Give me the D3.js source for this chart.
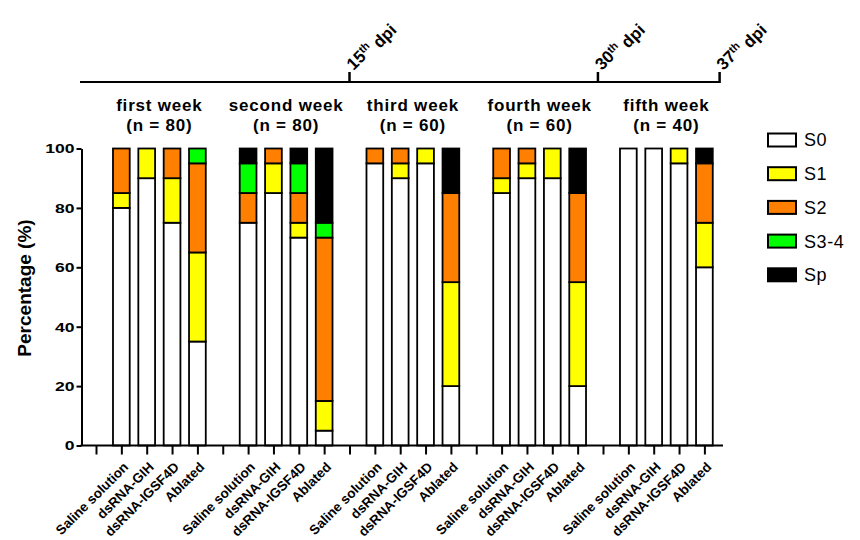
<!DOCTYPE html>
<html>
<head>
<meta charset="utf-8">
<script src="https://cdn.jsdelivr.net/npm/d3@7"></script>
<style>
  body { margin: 0; background: #fff; }
  text { font-family: "Liberation Sans", Arial, sans-serif; fill: #000; }
</style>
</head>
<body>
<div id="container"></div>
<script>
/* CONSTANTS AND GLOBALS */
const width = 860;
const height = 540;

/* DATA */
const stages = ["S0", "S1", "S2", "S3-4", "Sp"];
const stageColors = ["#ffffff", "#ffff00", "#ff8000", "#00ff00", "#000000"];
const weeks = ["first week", "second week", "third week", "fourth week", "fifth week"];
const weekN = [80, 80, 60, 60, 40];
const treatments = ["Saline solution", "dsRNA-GIH", "dsRNA-IGSF4D", "Ablated"];
// percentages, week by week, in treatment order
const valS0  = [80, 90, 75, 35,  75, 85, 70, 5,   95, 90, 95, 20,  85, 90, 90, 20,  100, 100, 95, 60];
const valS1  = [5, 10, 15, 30,   0, 10, 5, 10,    0, 5, 5, 35,     5, 5, 10, 35,    0, 0, 5, 15];
const valS2  = [15, 0, 10, 30,   10, 5, 10, 55,   5, 5, 0, 30,     10, 5, 0, 30,    0, 0, 0, 20];
const valS34 = [0, 0, 0, 5,      10, 0, 10, 5,    0, 0, 0, 0,      0, 0, 0, 0,      0, 0, 0, 0];
const valSp  = [0, 0, 0, 0,      5, 0, 5, 25,     0, 0, 0, 15,     0, 0, 0, 15,     0, 0, 0, 5];
const yTicks = [0, 20, 40, 60, 80, 100];
// dpi marks on the top time line, in slot units of the x axis
const dpiLabels = ["15", "30", "37"];
const dpiSlots = [10, 19.8, 24.6];

/* BUILD ROWS */
const rows = [];
weeks.forEach((w, wi) => {
  treatments.forEach((t, ti) => {
    const i = wi * 4 + ti;
    rows.push({ key: w + "|" + t, "S0": valS0[i], "S1": valS1[i], "S2": valS2[i], "S3-4": valS34[i], "Sp": valSp[i] });
  });
});
const slots = [];
weeks.forEach(w => {
  slots.push("gap|" + w);
  treatments.forEach(t => slots.push(w + "|" + t));
});

const svg = d3.select("#container")
  .append("svg")
  .attr("width", width)
  .attr("height", height);

const xScale = d3.scalePoint()
  .domain(slots)
  .range([96, 704.4]);
const slotScale = d3.scaleLinear()
  .domain([0, slots.length - 1])
  .range([96, 704.4]);
const yScale = d3.scaleLinear()
  .domain([0, 100])
  .range([445.5, 148.5]);
const color = d3.scaleOrdinal().domain(stages).range(stageColors);
const barW = xScale.step() * 0.66;

/* BARS */
const series = d3.stack().keys(stages)(rows);
svg.append("g")
  .selectAll("g")
  .data(series)
  .join("g")
  .attr("fill", d => color(d.key))
  .selectAll("rect")
  .data(d => d.filter(p => p[1] - p[0] > 0))
  .join("rect")
  .attr("x", d => xScale(d.data.key) - barW / 2)
  .attr("y", d => yScale(d[1]))
  .attr("width", barW)
  .attr("height", d => yScale(d[0]) - yScale(d[1]))
  .attr("stroke", "#000")
  .attr("stroke-width", 1.8);

/* AXES */
const xAxis = d3.axisBottom(xScale)
  .tickSize(9)
  .tickFormat(k => k.startsWith("gap") ? "" : k.split("|")[1]);
const gx = svg.append("g")
  .attr("transform", `translate(0, ${yScale(0)})`)
  .call(xAxis);
gx.select(".domain").remove();
gx.selectAll("line").attr("stroke-width", 2);
gx.selectAll("text")
  .attr("x", null)
  .attr("y", null)
  .attr("dy", "0.35em")
  .attr("text-anchor", "end")
  .attr("transform", "translate(4, 19) rotate(-45)")
  .style("font-size", "13.5px")
  .style("font-weight", "bold");
svg.append("line")
  .attr("x1", 80.5).attr("x2", 723)
  .attr("y1", yScale(0)).attr("y2", yScale(0))
  .attr("stroke", "#000").attr("stroke-width", 2);

const yAxis = d3.axisLeft(yScale)
  .tickValues(yTicks)
  .tickSize(5)
  .tickSizeOuter(0);
const gy = svg.append("g")
  .attr("transform", "translate(81.5, 0)")
  .call(yAxis);
gy.select(".domain").attr("stroke-width", 2);
gy.selectAll("line").attr("stroke-width", 2);
gy.selectAll("text")
  .attr("x", -7 / 1.3)
  .attr("transform", "scale(1.3, 1)")
  .style("font-size", "13.5px")
  .style("font-weight", "bold");

svg.append("text")
  .attr("transform", "translate(31, 288) rotate(-90)")
  .attr("text-anchor", "middle")
  .style("font-size", "19px")
  .style("font-weight", "bold")
  .text("Percentage (%)");

/* WEEK LABELS */
const weekCenter = wi => (xScale(weeks[wi] + "|" + treatments[0]) + xScale(weeks[wi] + "|" + treatments[3])) / 2;
const wl = svg.append("g")
  .selectAll("text")
  .data(weeks)
  .join("text")
  .attr("text-anchor", "middle")
  .style("font-size", "17px")
  .style("font-weight", "bold")
  .style("letter-spacing", "0.8px");
wl.append("tspan")
  .attr("x", (d, i) => weekCenter(i))
  .attr("y", 110.5)
  .text(d => d);
wl.append("tspan")
  .attr("x", (d, i) => weekCenter(i))
  .attr("y", 130.5)
  .text((d, i) => `(n = ${weekN[i]})`);

/* TIME LINE */
svg.append("line")
  .attr("x1", 80).attr("x2", slotScale(dpiSlots[2]))
  .attr("y1", 82).attr("y2", 82)
  .attr("stroke", "#000").attr("stroke-width", 2);
svg.append("g")
  .selectAll("line")
  .data(dpiSlots)
  .join("line")
  .attr("x1", d => slotScale(d)).attr("x2", d => slotScale(d))
  .attr("y1", 83).attr("y2", 72)
  .attr("stroke", "#000").attr("stroke-width", 2.5);
const dl = svg.append("g")
  .selectAll("text")
  .data(dpiSlots)
  .join("text")
  .attr("transform", d => `translate(${slotScale(d) + 4}, 71) rotate(-45)`)
  .style("font-size", "17px")
  .style("font-weight", "bold");
dl.append("tspan").text((d, i) => dpiLabels[i]);
dl.append("tspan").attr("dy", "-0.5em").style("font-size", "11px").text("th");
dl.append("tspan").attr("dy", "0.5em").text(" dpi");

/* LEGEND */
const legend = svg.append("g")
  .selectAll("g")
  .data(stages)
  .join("g")
  .attr("transform", (d, i) => `translate(768, ${140 + i * 33.7})`);
legend.append("rect")
  .attr("x", 0).attr("y", -6.5)
  .attr("width", 28).attr("height", 13)
  .attr("fill", d => color(d))
  .attr("stroke", "#000").attr("stroke-width", 2);
legend.append("text")
  .attr("x", 36)
  .attr("dy", "0.36em")
  .style("font-size", "18px")
  .style("letter-spacing", "0.6px")
  .text(d => d);
</script>
</body>
</html>
